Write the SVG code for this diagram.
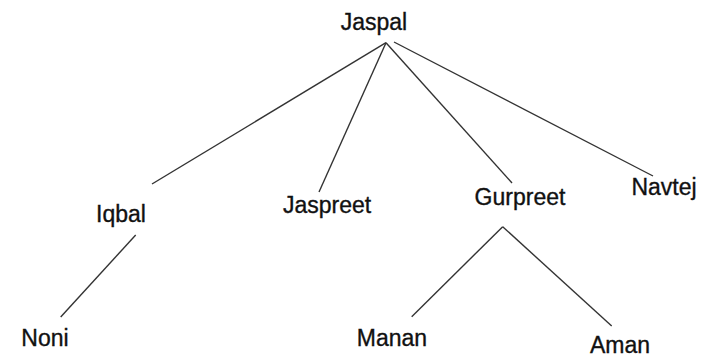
<svg xmlns="http://www.w3.org/2000/svg" width="708" height="357" viewBox="0 0 708 357">
<style>
.lbl{font-family:"Liberation Sans",Arial,sans-serif;font-size:23px;fill:#111;stroke:#111;stroke-width:0.35;text-anchor:middle}
.edge{stroke:#333;stroke-width:1.4;fill:none}
</style>
<rect width="708" height="357" fill="#fff"/>
<g id="connectors">
<line class="edge" x1="386" y1="42.7" x2="152" y2="184"/>
<line class="edge" x1="386" y1="42.7" x2="319" y2="192"/>
<line class="edge" x1="386" y1="42.7" x2="512" y2="183"/>
<line class="edge" x1="394" y1="42" x2="653" y2="176"/>
<line class="edge" x1="135.7" y1="235" x2="60.7" y2="317"/>
<line class="edge" x1="502.7" y1="226.7" x2="411.7" y2="316.7"/>
<line class="edge" x1="502.7" y1="226.7" x2="611.7" y2="326"/>
</g>
<g id="Jaspal"><text class="lbl" x="374" y="30">Jaspal</text></g>
<g id="Iqbal"><text class="lbl" x="121" y="222">Iqbal</text></g>
<g id="Jaspreet"><text class="lbl" x="327" y="213">Jaspreet</text></g>
<g id="Gurpreet"><text class="lbl" x="520" y="205">Gurpreet</text></g>
<g id="Navtej"><text class="lbl" x="664" y="195">Navtej</text></g>
<g id="Noni"><text class="lbl" x="45" y="346">Noni</text></g>
<g id="Manan"><text class="lbl" x="392" y="346">Manan</text></g>
<g id="Aman"><text class="lbl" x="620" y="353">Aman</text></g>
</svg>
